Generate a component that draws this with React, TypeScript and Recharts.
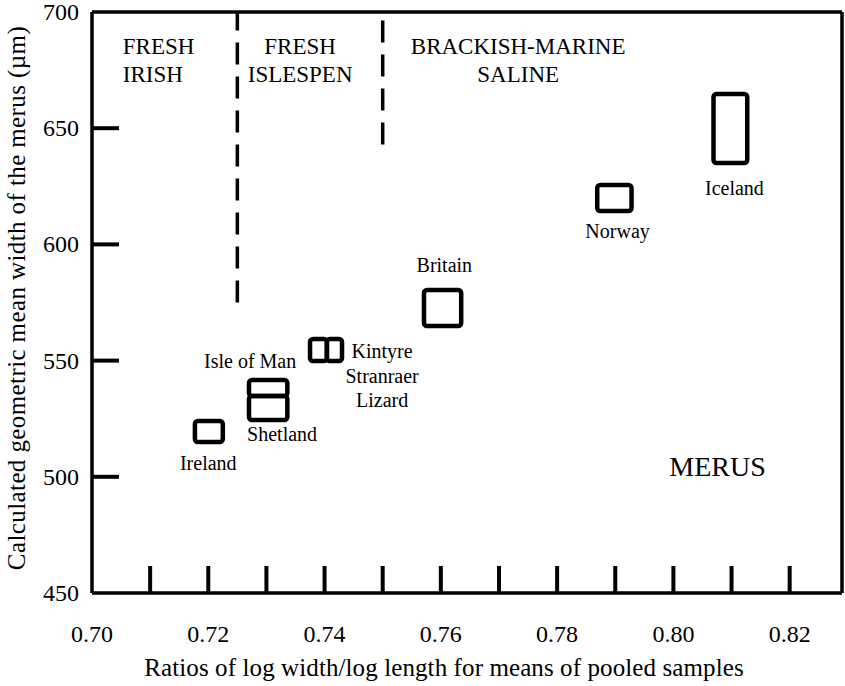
import React from 'react';
import {
  ScatterChart,
  Scatter,
  XAxis,
  YAxis,
  ReferenceArea,
  ReferenceLine,
} from 'recharts';

const FONT = '"Liberation Serif", "Times New Roman", serif';

// axis ticks
const xTicks = [0.7, 0.71, 0.72, 0.73, 0.74, 0.75, 0.76, 0.77, 0.78, 0.79, 0.8, 0.81, 0.82];
const yTicks = [450, 500, 550, 600, 650, 700];
const rightTicks = [500, 550, 600, 650];

// sample boxes (range of ratio x range of merus width)
const boxNames = ['Ireland', 'Isle of Man', 'Shetland', 'Kintyre', 'Stranraer/Lizard', 'Britain', 'Norway', 'Iceland'];
const boxXMin = [0.7177, 0.727, 0.727, 0.7375, 0.7404, 0.7571, 0.7869, 0.8069];
const boxXMax = [0.7225, 0.7336, 0.7336, 0.7404, 0.743, 0.7635, 0.7928, 0.8127];
const boxYMin = [515, 534.8, 524.4, 549.8, 549.8, 564.9, 614.4, 635];
const boxYMax = [524, 541.7, 534.8, 559.3, 559.3, 580.4, 625.6, 664.7];

// site labels
const siteNames = ['Ireland', 'Isle of Man', 'Shetland', 'Kintyre', 'Stranraer', 'Lizard', 'Britain', 'Norway', 'Iceland'];
const siteX = [0.72, 0.7272, 0.7327, 0.7499, 0.7499, 0.7499, 0.7606, 0.7904, 0.8105];
const siteY = [502.9, 546.8, 515.4, 551.1, 540.4, 530.0, 588.1, 602.8, 621.3];

// habitat zones
const zoneLeftNames = ['FRESH', 'IRISH'];
const zoneLeftX = [0.7053, 0.7053];
const zoneLeftY = [681.9, 669.9];
const zoneCenterNames = ['FRESH', 'ISLESPEN', 'BRACKISH-MARINE', 'SALINE'];
const zoneCenterX = [0.7358, 0.7358, 0.7733, 0.7733];
const zoneCenterY = [681.9, 669.9, 681.9, 669.9];
const boundaryX = [0.725, 0.75];
const boundaryBottom = [575, 643];

const panelName = ['MERUS'];
const panelX = [0.8076];
const panelY = [500.3];

const zip = (names: string[], xs: number[], ys: number[]) =>
  names.map((name, i) => ({ name, x: xs[i], y: ys[i] }));

const siteData = zip(siteNames, siteX, siteY);
const zoneLeftData = zip(zoneLeftNames, zoneLeftX, zoneLeftY);
const zoneCenterData = zip(zoneCenterNames, zoneCenterX, zoneCenterY);
const panelData = zip(panelName, panelX, panelY);

const textShape = (size: number, anchor: 'start' | 'middle') => (p: any) => (
  <text x={p.cx} y={p.cy} textAnchor={anchor} fontSize={size} fontFamily={FONT} fill="#000">
    {p.payload.name}
  </text>
);

const BottomTick = (p: any) => {
  const v = p.payload.value;
  const labelled = Math.round(v * 100) % 2 === 0;
  return (
    <g>
      {v > 0.705 && <line x1={p.x} x2={p.x} y1={p.y} y2={p.y - 27} stroke="#000" strokeWidth={4} />}
      {labelled && (
        <text x={p.x} y={p.y + 49} textAnchor="middle" fontSize={24} fontFamily={FONT} fill="#000">
          {v.toFixed(2)}
        </text>
      )}
    </g>
  );
};

const LeftTick = (p: any) => {
  const v = p.payload.value;
  return (
    <g>
      {v > 450 && v < 700 && <line x1={p.x} x2={p.x + 27} y1={p.y} y2={p.y} stroke="#000" strokeWidth={4} />}
      <text x={p.x - 13} y={p.y + 8} textAnchor="end" fontSize={24} fontFamily={FONT} fill="#000">
        {v}
      </text>
    </g>
  );
};

const RightTick = (p: any) => (
  <line x1={p.x} x2={p.x - 27} y1={p.y} y2={p.y} stroke="#000" strokeWidth={4} />
);

export default function App() {
  const boxes = boxNames.map((name, i) => (
    <ReferenceArea
      key={name + i}
      x1={boxXMin[i]}
      x2={boxXMax[i]}
      y1={boxYMin[i]}
      y2={boxYMax[i]}
      stroke="#000"
      strokeWidth={4.5}
      fill="none"
      fillOpacity={0}
      radius={3}
    />
  ));

  const boundaries = boundaryX.map((bx, i) => (
    <ReferenceLine
      key={'b' + i}
      segment={[
        { x: bx, y: boundaryBottom[i] },
        { x: bx, y: 700 },
      ]}
      stroke="#000"
      strokeWidth={3.5}
      strokeDasharray="22 12"
    />
  ));

  return (
    <div style={{ position: 'absolute', left: 0, top: 0, background: '#fff' }}>
      <ScatterChart width={845} height={686} margin={{ top: 11, right: 2, bottom: 33, left: 32 }}>
        <XAxis
          type="number"
          dataKey="x"
          domain={[0.7, 0.829]}
          ticks={xTicks}
          interval={0}
          tickSize={0}
          tickMargin={0}
          tickLine={false}
          height={60}
          axisLine={{ stroke: '#000', strokeWidth: 3.5 }}
          tick={<BottomTick />}
          label={{
            content: () => (
              <text
                x={444}
                y={676}
                textAnchor="middle"
                fontSize={25}
                letterSpacing={0.1}
                fontFamily={FONT}
                fill="#000"
              >
                Ratios of log width/log length for means of pooled samples
              </text>
            ),
          }}
        />
        <XAxis
          xAxisId="top"
          orientation="top"
          type="number"
          dataKey="x"
          domain={[0.7, 0.829]}
          tick={false}
          tickLine={false}
          height={1}
          axisLine={{ stroke: '#000', strokeWidth: 3.5 }}
        />
        <YAxis
          type="number"
          dataKey="y"
          domain={[450, 700]}
          ticks={yTicks}
          interval={0}
          tickSize={0}
          tickMargin={0}
          tickLine={false}
          width={60}
          axisLine={{ stroke: '#000', strokeWidth: 3.5 }}
          tick={<LeftTick />}
          label={{
            content: () => (
              <text
                x={0}
                y={0}
                transform="translate(25 298) rotate(-90)"
                textAnchor="middle"
                fontSize={25}
                letterSpacing={0.4}
                fontFamily={FONT}
                fill="#000"
              >
                Calculated geometric mean width of the merus (µm)
              </text>
            ),
          }}
        />
        <YAxis
          yAxisId="right"
          orientation="right"
          type="number"
          domain={[450, 700]}
          ticks={rightTicks}
          interval={0}
          tickSize={0}
          tickMargin={0}
          tickLine={false}
          width={1}
          axisLine={{ stroke: '#000', strokeWidth: 3.5 }}
          tick={<RightTick />}
        />
        {boundaries}
        {boxes}
        <Scatter data={zoneLeftData} isAnimationActive={false} shape={textShape(23, 'start')} />
        <Scatter data={zoneCenterData} isAnimationActive={false} shape={textShape(23, 'middle')} />
        <Scatter data={siteData} isAnimationActive={false} shape={textShape(20, 'middle')} />
        <Scatter data={panelData} isAnimationActive={false} shape={textShape(28, 'middle')} />
      </ScatterChart>
    </div>
  );
}
